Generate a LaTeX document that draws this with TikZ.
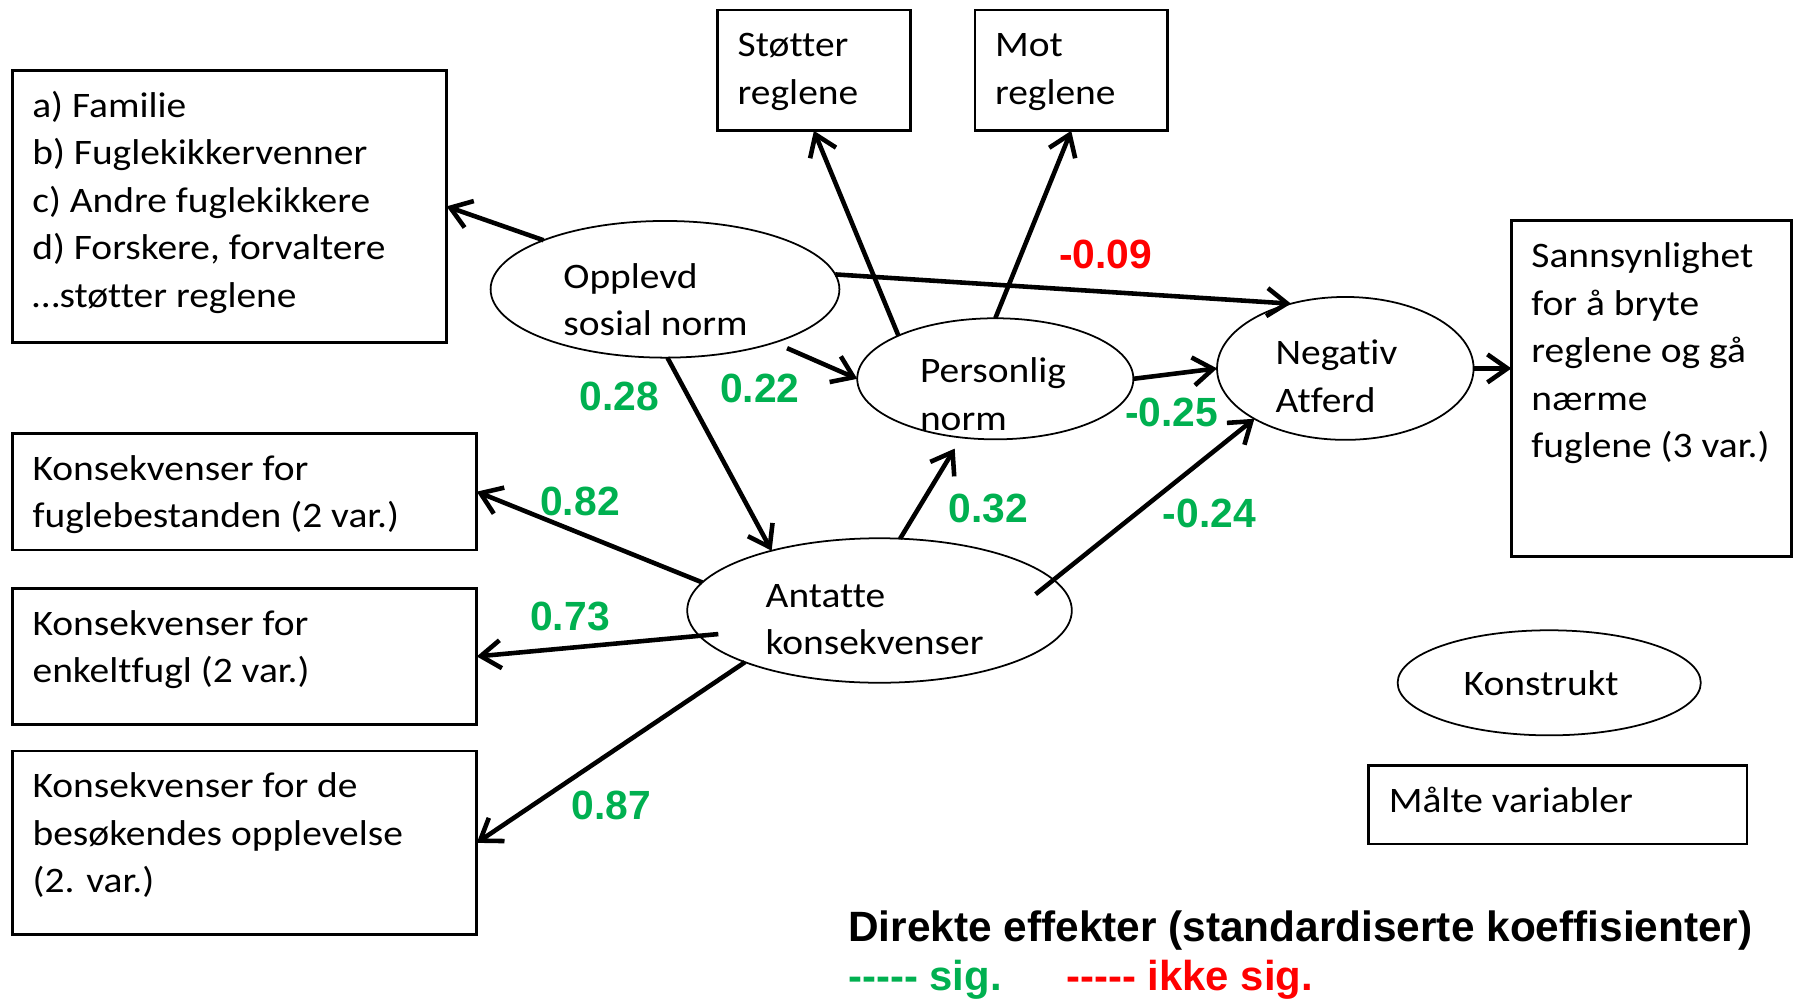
\documentclass[tikz,border=0pt]{standalone}
\usepackage{fontspec}
\setmainfont{Carlito}[FakeStretch=1.1, Ligatures=NoCommon]
\newfontfamily\arialfont{Liberation Sans}
\usepackage{xcolor}
\usetikzlibrary{arrows.meta, shapes.geometric, positioning, calc}
\definecolor{sigGreen}{HTML}{00B050}
\definecolor{ikkeRed}{HTML}{FF0000}
\newcommand{\boksinnhold}[3]{\parbox[c][#2][t]{#1}{\raggedright\strut #3}}

\begin{document}
\begin{tikzpicture}[
    x=0.01cm, y=-0.01cm,
    font=\fontsize{10.2}{13.5}\selectfont,
    boks/.style={draw, rectangle, line width=0.8pt, anchor=north west, inner xsep=0.2cm, inner ysep=0.137cm, outer sep=0pt},
    konstrukt/.style={draw, ellipse, line width=0.5pt, inner sep=0pt, outer sep=0pt},
    tekst/.style={anchor=north west, inner sep=0pt, align=left},
    pil/.style={-{Straight Barb[length=2mm, width=2.8mm]}, line width=1.3pt},
    koef/.style={inner sep=0pt, text=sigGreen, font=\arialfont\bfseries\fontsize{11.6}{13}\selectfont},
    forklaring/.style={anchor=base west, inner sep=0pt, font=\arialfont\bfseries\fontsize{11.9}{14}\selectfont}
]
    \useasboundingbox (0,0) rectangle (1794,1000);

    % maalte variabler
    \node (fam) [boks] at (12.3,70.3) {\boksinnhold{3.94cm}{2.446cm}{a) Familie\\ b) Fuglekikkervenner\\ c) Andre fuglekikkere\\ d) Forskere, forvaltere\\ …støtter reglene}};
    \node (stot) [boks] at (717.7,10) {\boksinnhold{1.523cm}{0.933cm}{Støtter\\ reglene}};
    \node (mot) [boks] at (975,10) {\boksinnhold{1.523cm}{0.933cm}{Mot\\ reglene}};
    \node (sann) [boks] at (1511.4,220.8) {\boksinnhold{2.403cm}{3.082cm}{Sannsynlighet\\ for å bryte\\ reglene og gå\\ nærme\\ \mbox{fuglene (3 var.)}}};
    \node (kfugl) [boks] at (12.6,433.3) {\boksinnhold{4.239cm}{0.893cm}{Konsekvenser for\\ fuglebestanden (2 var.)}};
    \node (kenk) [boks] at (12.6,588.3) {\boksinnhold{4.239cm}{1.088cm}{Konsekvenser for\\ enkeltfugl (2 var.)}};
    \node (kbes) [boks] at (12.6,751) {\boksinnhold{4.239cm}{1.562cm}{Konsekvenser for de\\ besøkendes opplevelse\\ (2. var.)}};

    % konstrukter
    \node (oppl) [konstrukt, minimum width=3.486cm, minimum height=1.366cm] at (665,289.3) {};
    \node (pers) [konstrukt, minimum width=2.76cm, minimum height=1.21cm] at (995.3,378.8) {};
    \node (neg) [konstrukt, minimum width=2.564cm, minimum height=1.428cm] at (1345.3,368.4) {};
    \node (ant) [konstrukt, minimum width=3.844cm, minimum height=1.444cm] at (879.5,610.5) {};
    \node (oppl-t) [tekst] at (562.7,254.4) {\strut Opplevd\\sosial norm};
    \node (pers-t) [tekst] at (919.3,348.7) {\strut Personlig\\norm};
    \node (neg-t) [tekst] at (1275,330.7) {\strut Negativ\\Atferd};
    \node (ant-t) [tekst] at (765,573.4) {\strut Antatte\\konsekvenser};

    % forklaring
    \node (konstr) [konstrukt, minimum width=3.03cm, minimum height=1.05cm] at (1549.2,682.8) {\hspace*{-0.16cm}Konstrukt};
    \node (maalt) [boks] at (1368.8,765.7) {\boksinnhold{3.379cm}{0.509cm}{Målte variabler}};

    % stier
    \draw[pil] (oppl.158) -- (fam.east);
    \draw[pil] (oppl.5) -- (neg.130);
    \draw[pil, shorten <=0.14cm] (oppl.-26) -- (pers.west);
    \draw[pil] (oppl.-88) -- (ant.151);
    \draw[pil] (pers.156) -- (stot.south);
    \draw[pil] (pers.north) -- (mot.south);
    \draw[pil] (pers.east) -- (neg.west);
    \draw[pil, shorten >=0.13cm] (ant.74) -- (pers.240);
    \draw[pil, shorten <=-0.23cm] (ant.10) -- (neg.209);
    \draw[pil] (ant.171) -- (kfugl.east);
    \draw[pil, shorten <=-0.19cm] (ant.188) -- (kenk.east);
    \draw[pil] (ant.201) -- (kbes.east);
    \draw[pil] (neg.east) -- (sann.west |- neg.east);

    % koeffisienter
    \node (k-oppl-neg) [koef, text=ikkeRed] at (1105.5,254.2) {-0.09};
    \node (k-oppl-ant) [koef] at (619.3,396) {0.28};
    \node (k-oppl-pers) [koef] at (759.7,388) {0.22};
    \node (k-pers-neg) [koef] at (1171.7,412.5) {-0.25};
    \node (k-ant-pers) [koef] at (988.3,508.3) {0.32};
    \node (k-ant-neg) [koef] at (1209.3,513.8) {-0.24};
    \node (k-kfugl) [koef] at (580,501) {0.82};
    \node (k-kenk) [koef] at (570,616) {0.73};
    \node (k-kbes) [koef] at (611.5,805) {0.87};

    \node (tittel) [forklaring, font=\arialfont\bfseries\fontsize{12.05}{14}\selectfont] at (847.6,941.7) {Direkte effekter (standardiserte koeffisienter)};
    \node (sig) [forklaring, text=sigGreen] at (847.6,990) {-{}-{}-{}-{}- sig.};
    \node (ikkesig) [forklaring, text=ikkeRed, base right=0.634cm of sig] {-{}-{}-{}-{}- ikke sig.};
\end{tikzpicture}
\end{document}
